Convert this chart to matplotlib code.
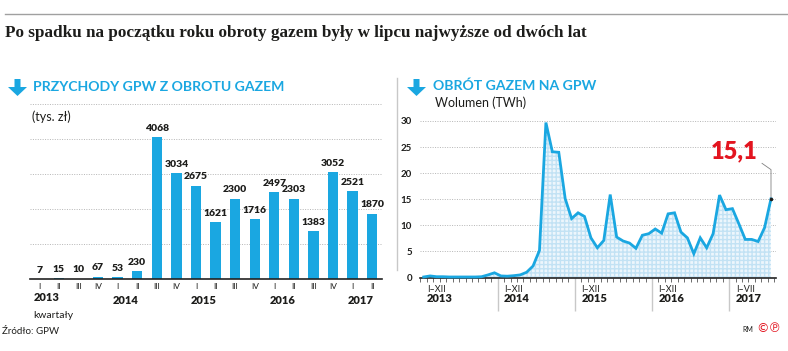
import matplotlib.pyplot as plt
from matplotlib.patches import Polygon
from matplotlib.lines import Line2D
import numpy as np

W, H = 788, 351

# --- data ---
quarters = ['I', 'II', 'III', 'IV', 'I', 'II', 'III', 'IV', 'I', 'II', 'III', 'IV',
            'I', 'II', 'III', 'IV', 'I', 'II']
revenue = [7, 15, 10, 67, 53, 230, 4068, 3034, 2675, 1621, 2300, 1716,
           2497, 2303, 1383, 3052, 2521, 1870]
bar_years = ['2013', '2014', '2015', '2016', '2017']

volume = [0.1, 0.3, 0.15, 0.15, 0.1, 0.1, 0.1, 0.1, 0.1, 0.15, 0.5, 0.9,        # 2013
          0.3, 0.25, 0.35, 0.5, 1.0, 2.2, 5.2, 29.7, 24.1, 24.0, 15.1, 11.3,    # 2014
          12.4, 11.7, 7.6, 5.7, 7.1, 15.9, 7.75, 7.0, 6.6, 5.6, 8.1, 8.4,       # 2015
          9.3, 8.5, 12.2, 12.4, 8.7, 7.6, 4.55, 7.6, 5.7, 8.4, 15.8, 13.0,      # 2016
          13.2, 10.3, 7.3, 7.3, 6.9, 9.55, 15.1]                                # 2017
vol_periods = ['I–XII', 'I–XII', 'I–XII', 'I–XII', 'I–VII']
vol_years = ['2013', '2014', '2015', '2016', '2017']

BLUE = '#1aa7e1'
DARK = '#1d1d1b'
GRID = '#b5b5b5'
SANS = ['Lato', 'DejaVu Sans']

plt.rcParams['font.family'] = SANS

fig = plt.figure(figsize=(W / 100, H / 100), dpi=100)


def fx(x):
    return x / W


def fy(y):
    return 1 - y / H


def arrow(x, y):
    pts = [(x + 6.5, y), (x + 12.5, y), (x + 12.5, y + 8), (x + 19, y + 8),
           (x + 9.5, y + 17), (x, y + 8), (x + 6.5, y + 8)]
    fig.add_artist(Polygon([(fx(a), fy(b)) for a, b in pts], closed=True,
                           transform=fig.transFigure, color=BLUE, lw=0))


# header
fig.add_artist(Line2D([fx(5), fx(788)], [fy(14), fy(14)], color='#a0a0a0', lw=1))
fig.text(fx(5), fy(33), 'Po spadku na początku roku obroty gazem były w lipcu najwyższe od dwóch lat',
         family=['Liberation Serif', 'DejaVu Serif'], fontweight='bold', fontsize=12.3,
         color=DARK, va='center')
fig.add_artist(Line2D([fx(397), fx(397)], [fy(78), fy(270)], color='#c8c8c8', lw=1))

# --- left: revenue bars ---
arrow(8, 79)
fig.text(fx(33), fy(87), 'PRZYCHODY GPW Z OBROTU GAZEM', color=BLUE, fontweight='bold',
         fontsize=10.1, va='center')
fig.text(fx(32), fy(117), '(tys. zł)', color=DARK, fontsize=9, va='center')

ax1 = fig.add_axes([fx(29.5), fy(279), (382 - 29.5) / W, (279 - 104.3) / H])
pos = np.arange(len(revenue))
ax1.bar(pos, revenue, width=0.53, color=BLUE, zorder=2)
for v in range(1000, 5001, 1000):
    ax1.axhline(v, color=GRID, ls=(0, (1, 1.5)), lw=0.7, zorder=0)
for x, v in zip(pos, revenue):
    ax1.annotate(str(v), (x, v), xytext=(0, 3), textcoords='offset points', ha='center',
                 va='bottom', fontweight='heavy', fontsize=7.5, color=DARK)
ax1.set_xlim(-0.5, len(revenue) - 0.5)
ax1.set_ylim(0, 5000)
ax1.set_yticks([])
ax1.set_xticks(pos)
ax1.set_xticklabels(quarters, fontsize=6, color=DARK)
ax1.tick_params(axis='x', length=0, pad=3)
for s in ['top', 'left', 'right']:
    ax1.spines[s].set_visible(False)
ax1.spines['bottom'].set_color('#222222')
ax1.spines['bottom'].set_linewidth(1.2)
for k, yr in enumerate(bar_years):
    ax1.text(4 * k + 0.4, -0.105 if k == 0 else -0.125, yr, transform=ax1.get_xaxis_transform(),
             ha='center', va='center', fontweight='heavy', fontsize=8, color=DARK)
fig.text(fx(33), fy(315), 'kwartały', fontsize=7.5, color=DARK, va='center')
fig.text(fx(2), fy(332), 'Źródło: GPW', fontsize=7, color=DARK, va='center')

# --- right: monthly volume ---
arrow(407, 79)
fig.text(fx(433), fy(86), 'OBRÓT GAZEM NA GPW', color=BLUE, fontweight='bold',
         fontsize=10.1, va='center')
fig.text(fx(435), fy(103), 'Wolumen (TWh)', color=DARK, fontsize=9, va='center')

ax2 = fig.add_axes([fx(420.5), fy(277.5), (775.5 - 420.5) / W, (277.5 - 121) / H])
months = np.arange(len(volume)) + 0.5
ax2.fill_between(months, volume, color='#edf6fc', hatch='++++', edgecolor='#c2e2f4',
                 lw=0, zorder=1)
ax2.plot(months, volume, color=BLUE, lw=2, zorder=3, clip_on=False,
         solid_joinstyle='miter')
for v in range(5, 31, 5):
    ax2.axhline(v, color=GRID, ls=(0, (1, 1.5)), lw=0.7, zorder=0)
ax2.set_xlim(0, 55.2)
ax2.set_ylim(0, 30)
ax2.set_yticks(range(0, 31, 5))
ax2.tick_params(axis='y', length=0, pad=6, labelsize=7, labelcolor=DARK)
for t in ax2.get_yticklabels():
    t.set_fontweight('bold')
ax2.set_xticks(np.arange(0, 56), minor=True)
ax2.set_xticks([12, 24, 36, 48])
ax2.set_xticklabels([])
ax2.tick_params(axis='x', which='minor', length=3, width=0.6, color='#555555')
ax2.tick_params(axis='x', which='major', length=24, width=1, color='#c8c8c8')
for s in ['top', 'left', 'right']:
    ax2.spines[s].set_visible(False)
ax2.spines['bottom'].set_color('#222222')
ax2.spines['bottom'].set_linewidth(1.2)
for k, (per, yr) in enumerate(zip(vol_periods, vol_years)):
    x0 = 12 * k + 1.0
    ax2.text(x0, -0.075, per, transform=ax2.get_xaxis_transform(), ha='left', va='center',
             fontsize=6.5, color=DARK)
    ax2.text(x0, -0.135, yr, transform=ax2.get_xaxis_transform(), ha='left', va='center',
             fontweight='heavy', fontsize=8, color=DARK)

ax2.plot(months[-1], volume[-1], 'o', ms=1.5, color=DARK, zorder=4, clip_on=False)
ax2.annotate(f'{volume[-1]:.1f}'.replace('.', ','), (months[-1], volume[-1]),
             xytext=(-13, 40), textcoords='offset pixels', ha='right', va='baseline',
             color='#e3141f', fontweight='heavy', fontsize=17,
             arrowprops=dict(arrowstyle='-', color='#808080', lw=0.6, shrinkA=1, shrinkB=0,
                             relpos=(1, 0.1),
                             connectionstyle='angle,angleA=-35,angleB=90,rad=0'))

fig.text(fx(742), fy(329), 'RM', fontsize=5, color=DARK, va='center')
fig.text(fx(756), fy(329), '©℗', fontsize=9, color='#e3141f', va='center',
         family=['DejaVu Sans'])

fig.savefig('out.png', dpi=100)
